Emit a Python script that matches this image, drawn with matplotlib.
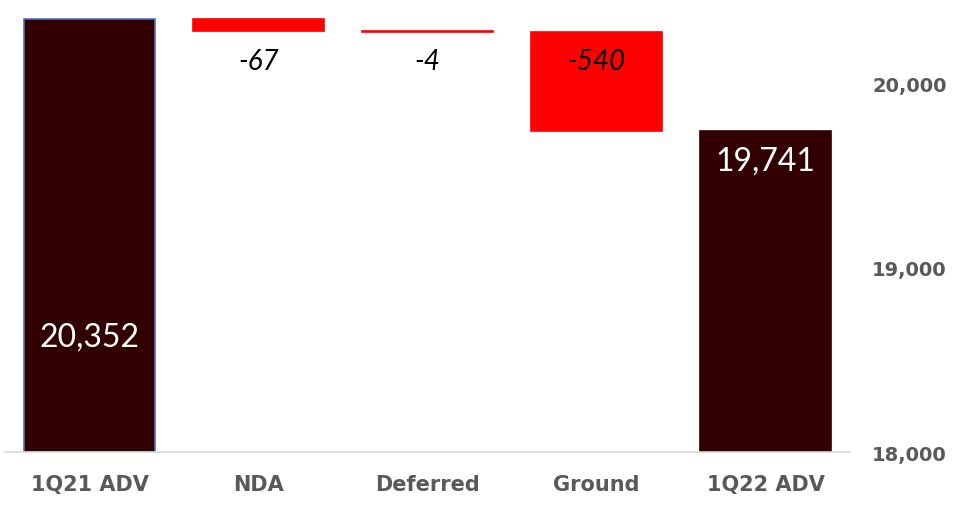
import numpy as np
import matplotlib.pyplot as plt

categories = ['1Q21 ADV', 'NDA', 'Deferred', 'Ground', '1Q22 ADV']
start_value = 20352
changes = [-67, -4, -540]
end_value = 19741
y_ticks = [18000, 19000, 20000]

# waterfall levels
levels = np.concatenate([[start_value], start_value + np.cumsum(changes)])
bottoms = [18000] + list(levels[1:]) + [18000]
heights = [start_value - 18000] + [-c for c in changes] + [end_value - 18000]
colors = ['#330000', '#FF0000', '#FF0000', '#FF0000', '#330000']
edges = ['#4A72C0', '#FF0000', '#FF0000', '#FF0000', '#330000']

fig = plt.figure(figsize=(9.62, 5.06), dpi=100)
ax = fig.add_axes([5 / 962, 53 / 506, 845 / 962, 453 / 506])

x = np.arange(len(categories))
ax.bar(x, heights, bottom=bottoms, width=0.775, color=colors,
       edgecolor=edges, linewidth=1.2)

ax.set_xlim(-0.5, 4.5)
ax.set_ylim(18000, 20460)

# axes look
for s in ['top', 'left', 'right']:
    ax.spines[s].set_visible(False)
ax.spines['bottom'].set_color('#D9D9D9')
ax.spines['bottom'].set_linewidth(1.2)

ax.yaxis.tick_right()
ax.set_yticks(y_ticks)
ax.set_yticklabels([f'{v:,}' for v in y_ticks], fontsize=14, fontweight='bold',
                   color='#595959', family='DejaVu Sans')
ax.tick_params(axis='y', length=0, pad=16)
ax.set_xticks(x)
ax.set_xticklabels(categories, fontsize=15, fontweight='bold', color='#595959',
                   family='DejaVu Sans')
ax.tick_params(axis='x', length=0, pad=16)

# totals
ax.text(0, 18625, f'{start_value:,}', ha='center', va='center', color='white',
        fontsize=23, family='Lato')
ax.annotate(f'{end_value:,}', (4, end_value), xytext=(0, -21), textcoords='offset points',
            ha='center', va='center', color='white', fontsize=23, family='Lato')

# changes
for i, c in enumerate(changes):
    ax.annotate(f'{c}', (i + 1, levels[2]), xytext=(0, -21), textcoords='offset points',
                ha='center', va='center', color='black', fontsize=20,
                style='italic', family='Lato')

fig.savefig('out.png', dpi=100)
